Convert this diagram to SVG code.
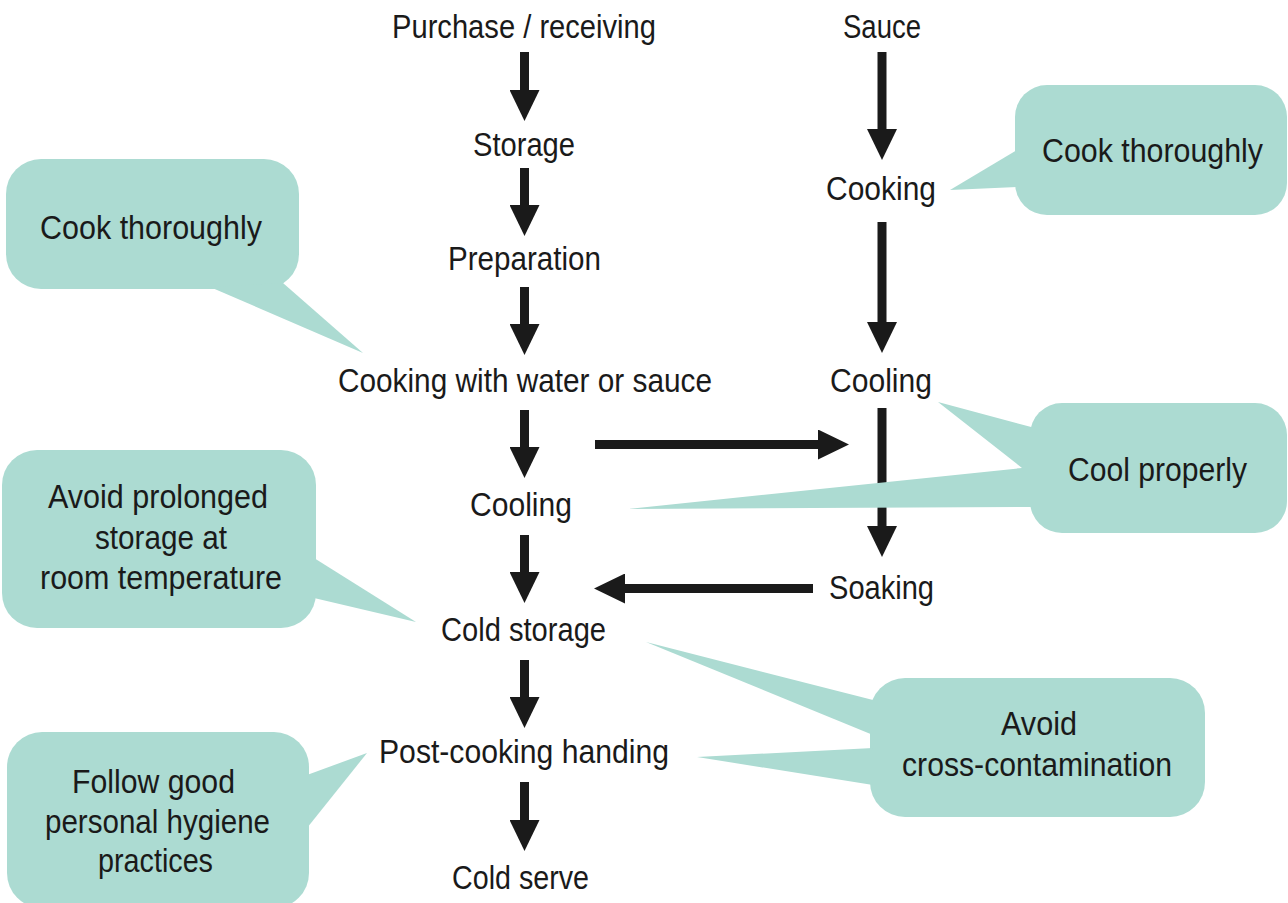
<svg xmlns="http://www.w3.org/2000/svg" width="1288" height="903" viewBox="0 0 1288 903">
<defs>
<style>
.t{font-family:"Liberation Sans",Arial,sans-serif;font-size:33px;fill:#1a1a1a;text-anchor:middle}
.c{fill:#acdbd2}
.a{stroke:#1a1a1a;stroke-width:9;fill:none;marker-end:url(#ah)}
</style>
<marker id="ah" markerUnits="userSpaceOnUse" markerWidth="31" markerHeight="30" refX="1" refY="15" orient="auto" viewBox="0 0 31 30">
<path d="M0,0 L31,15 L0,30 z" fill="#1a1a1a"/>
</marker>
</defs>
<rect width="1288" height="903" fill="#ffffff"/>
<g id="connectors">
<line class="a" x1="524.5" y1="52" x2="524.5" y2="91"/>
<line class="a" x1="524.5" y1="168" x2="524.5" y2="206"/>
<line class="a" x1="524.5" y1="287" x2="524.5" y2="325"/>
<line class="a" x1="524.5" y1="410" x2="524.5" y2="448"/>
<line class="a" x1="524.5" y1="535" x2="524.5" y2="573"/>
<line class="a" x1="524.5" y1="660" x2="524.5" y2="698"/>
<line class="a" x1="524.5" y1="782" x2="524.5" y2="821"/>
<line class="a" x1="882" y1="52" x2="882" y2="130"/>
<line class="a" x1="882" y1="222" x2="882" y2="323"/>
<line class="a" x1="882" y1="408" x2="882" y2="527"/>
<line class="a" x1="595" y1="444.5" x2="819" y2="444.5"/>
<line class="a" x1="813" y1="588.5" x2="624" y2="588.5"/>
</g>
<g id="nodes">
<g id="n-purchase"><text class="t" x="524" y="38" textLength="264" lengthAdjust="spacingAndGlyphs">Purchase / receiving</text></g>
<g id="n-storage"><text class="t" x="524" y="156" textLength="102" lengthAdjust="spacingAndGlyphs">Storage</text></g>
<g id="n-prep"><text class="t" x="524.5" y="270" textLength="153" lengthAdjust="spacingAndGlyphs">Preparation</text></g>
<g id="n-cookwater"><text class="t" x="525" y="392" textLength="374" lengthAdjust="spacingAndGlyphs">Cooking with water or sauce</text></g>
<g id="n-cooling1"><text class="t" x="521" y="516" textLength="102" lengthAdjust="spacingAndGlyphs">Cooling</text></g>
<g id="n-coldstorage"><text class="t" x="523.5" y="641" textLength="165" lengthAdjust="spacingAndGlyphs">Cold storage</text></g>
<g id="n-post"><text class="t" x="524" y="763" textLength="290" lengthAdjust="spacingAndGlyphs">Post-cooking handing</text></g>
<g id="n-coldserve"><text class="t" x="520.5" y="889" textLength="137" lengthAdjust="spacingAndGlyphs">Cold serve</text></g>
<g id="n-sauce"><text class="t" x="882" y="38" textLength="78" lengthAdjust="spacingAndGlyphs">Sauce</text></g>
<g id="n-cooking2"><text class="t" x="881" y="200" textLength="110" lengthAdjust="spacingAndGlyphs">Cooking</text></g>
<g id="n-cooling2"><text class="t" x="881" y="392" textLength="102" lengthAdjust="spacingAndGlyphs">Cooling</text></g>
<g id="n-soaking"><text class="t" x="881.5" y="599" textLength="105" lengthAdjust="spacingAndGlyphs">Soaking</text></g>
</g>
<g id="callouts">
<g id="co-cook1">
<rect class="c" x="6" y="159" width="293" height="130" rx="35"/>
<polygon class="c" points="210,287 283,283 363,353"/>
<text class="t" x="151" y="239" textLength="222" lengthAdjust="spacingAndGlyphs">Cook thoroughly</text>
</g>
<g id="co-cook2">
<rect class="c" x="1015" y="85" width="272" height="130" rx="32"/>
<polygon class="c" points="1017,150 1017,187 950,190"/>
<text class="t" x="1152.5" y="162" textLength="221" lengthAdjust="spacingAndGlyphs">Cook thoroughly</text>
</g>
<g id="co-cool">
<rect class="c" x="1030" y="403" width="257" height="130" rx="32"/>
<polygon class="c" points="938,402 1035,428 1035,507 628,509 1022,468"/>
<text class="t" x="1157.5" y="481" textLength="179" lengthAdjust="spacingAndGlyphs">Cool properly</text>
</g>
<g id="co-room">
<rect class="c" x="2" y="450" width="314" height="178" rx="35"/>
<polygon class="c" points="314,558 314,598 416,622"/>
<text class="t" x="158" y="508" textLength="220" lengthAdjust="spacingAndGlyphs">Avoid prolonged</text>
<text class="t" x="161" y="549" textLength="132" lengthAdjust="spacingAndGlyphs">storage at</text>
<text class="t" x="161" y="589" textLength="242" lengthAdjust="spacingAndGlyphs">room temperature</text>
</g>
<g id="co-hygiene">
<rect class="c" x="7" y="732" width="302" height="176" rx="35"/>
<polygon class="c" points="307,775 307,828 367,753"/>
<text class="t" x="153.5" y="793" textLength="163" lengthAdjust="spacingAndGlyphs">Follow good</text>
<text class="t" x="157.5" y="833" textLength="225" lengthAdjust="spacingAndGlyphs">personal hygiene</text>
<text class="t" x="155.5" y="872" textLength="115" lengthAdjust="spacingAndGlyphs">practices</text>
</g>
<g id="co-cross">
<rect class="c" x="870" y="678" width="335" height="139" rx="35"/>
<polygon class="c" points="646,642 873,700 873,735"/>
<polygon class="c" points="697,757 873,748 873,785"/>
<text class="t" x="1039" y="735" textLength="76" lengthAdjust="spacingAndGlyphs">Avoid</text>
<text class="t" x="1037" y="776" textLength="270" lengthAdjust="spacingAndGlyphs">cross-contamination</text>
</g>
</g>
</svg>
